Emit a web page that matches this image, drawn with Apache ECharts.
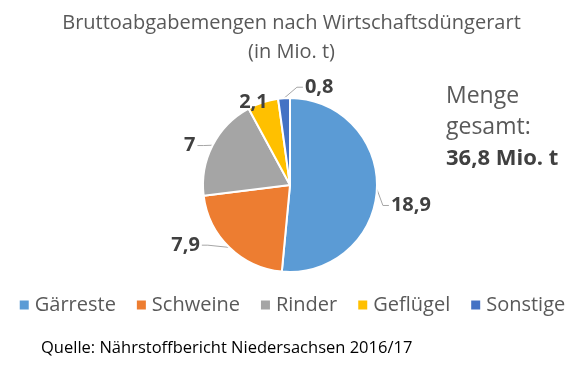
<!DOCTYPE html>
<html><head><meta charset="utf-8">
<script src="https://cdn.jsdelivr.net/npm/echarts@6/dist/echarts.min.js"></script>
<style>html,body{margin:0;padding:0;background:#fff}#c{width:583px;height:376px}</style>
</head><body><div id="c"></div>
<script>
const categories = ['Gärreste', 'Schweine', 'Rinder', 'Geflügel', 'Sonstige'];
const values = [18.9, 7.9, 7, 2.1, 0.8];
const colors = ['#5B9BD5', '#ED7D31', '#A5A5A5', '#FFC000', '#4472C4'];
const titleLines = ['Bruttoabgabemengen nach Wirtschaftsdüngerart', '(in Mio. t)'];
const totalLines = ['Menge', 'gesamt:', '36,8 Mio. t'];
const sourceText = 'Quelle: Nährstoffbericht Niedersachsen 2016/17';
const FONT = '"Open Sans", "Noto Sans", sans-serif';
// label nudges (Excel best-fit placement)
const labelShift = [[-7, 16], [-11, -8], [0, 4], [49, -10], [63, -3]];
const showLine = [true, true, true, false, true];

const chart = echarts.init(document.getElementById('c'));
chart.setOption({
  animation: false,
  color: colors,
  title: {
    text: titleLines.join('\n'),
    left: 'center', top: 4,
    textStyle: { fontFamily: FONT, fontSize: 20, fontWeight: 'normal', color: '#595959', lineHeight: 29 }
  },
  legend: {
    top: 290, left: 'center',
    itemWidth: 11, itemHeight: 11, itemGap: 19,
    icon: 'rect',
    textStyle: { fontFamily: FONT, fontSize: 20, color: '#595959' },
    data: categories
  },
  series: [{
    type: 'pie',
    center: [290, 185], radius: 87,
    startAngle: 90, clockwise: true,
    itemStyle: { borderColor: '#fff', borderWidth: 2 },
    label: {
      show: true, position: 'outside',
      fontFamily: FONT, fontSize: 20, fontWeight: 'bold', color: '#404040',
      formatter: p => String(p.value).replace('.', ','),
      distanceToLabelLine: 3
    },
    labelLine: { show: true, length: 8, length2: 10, lineStyle: { color: '#A6A6A6', width: 1 } },
    labelLayout: p => {
      const i = p.dataIndex;
      const [dx, dy] = labelShift[i];
      const r = p.labelRect;
      const res = { x: r.x + dx, y: r.y + dy, align: 'left', verticalAlign: 'top' };
      const pts = p.labelLinePoints;
      if (pts && showLine[i]) {
        const p0 = pts[0];
        const nx = r.x + dx, ny = r.y + dy;
        const cy = ny + r.height / 2;
        const right = nx > p0[0];
        const end = [right ? nx - 2 : nx + r.width + 2, cy];
        const mid = [end[0] + (right ? -6 : 6), cy];
        res.labelLinePoints = [p0, mid, end];
      }
      return res;
    },
    data: categories.map((c, i) => ({ name: c, value: values[i], labelLine: { show: showLine[i] } }))
  }],
  graphic: [
    { type: 'text', left: 446, top: 85, style: { text: totalLines[0], font: '23px ' + FONT, fill: '#595959' } },
    { type: 'text', left: 446, top: 116, style: { text: totalLines[1], font: '23px ' + FONT, fill: '#595959' } },
    { type: 'text', left: 446, top: 148, style: { text: totalLines[2], font: 'bold 22px ' + FONT, fill: '#404040' } },
    { type: 'text', left: 41, top: 340, style: { text: sourceText, font: '16.5px ' + FONT, fill: '#000' } }
  ]
});
</script></body></html>
